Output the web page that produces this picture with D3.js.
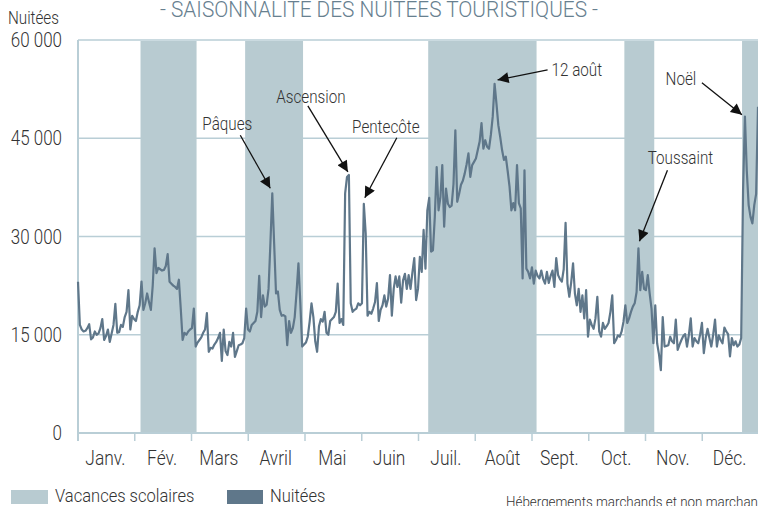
<!DOCTYPE html>
<html>
<head>
<meta charset="utf-8">
<script src="https://cdn.jsdelivr.net/npm/d3@7"></script>
<style>
  body { margin: 0; background: #fff; }
  svg { display: block; font-family: Roboto, "Noto Sans", sans-serif; font-weight: 300; }
</style>
</head>
<body>
<div id="chart"></div>
<script>
// ---- data (2017, one value per day) ----
const year = 2017;
const months = ['Janv.', 'Fév.', 'Mars', 'Avril', 'Mai', 'Juin', 'Juil.', 'Août', 'Sept.', 'Oct.', 'Nov.', 'Déc.'];
const yTicks = [0, 15000, 30000, 45000, 60000];

// school holidays (all zones), start / return day
const vacances = [
  ['2017-02-04', '2017-03-06'],
  ['2017-04-01', '2017-05-02'],
  ['2017-07-08', '2017-09-04'],
  ['2017-10-21', '2017-11-06'],
  ['2017-12-23', '2018-01-08']
];

const nuitees = [
  // janv.
  23100, 16500, 15800, 15500, 15600, 16000, 16600, 14300, 14600, 15500, 15000, 15200, 16000, 17400, 14200, 14800,
  15800, 13900, 15200, 16500, 19700, 15300, 15400, 16500, 16200, 17700, 18500, 21800, 15800, 17900, 17400,
  // fév.
  17100, 18500, 19500, 23100, 18800, 19800, 21300, 20000, 18800, 22500, 28200, 24400, 25200, 25000, 24800, 24900,
  25500, 27300, 23100, 22800, 22500, 22300, 22000, 23400, 19000, 14200, 15300, 15000,
  // mars
  15500, 15800, 16000, 19000, 13200, 13800, 14200, 14600, 15300, 15800, 18300, 12400, 13000, 12900, 13500, 13900,
  14500, 15300, 11000, 15800, 12500, 11900, 13900, 13200, 15300, 11600, 12500, 13400, 13500, 13700, 14500,
  // avril
  19000, 15800, 15500, 16500, 16800, 17100, 18500, 24000, 17700, 21000, 19300, 19600, 22000, 29000, 36600, 28900,
  21300, 21600, 18800, 17900, 18000, 17800, 13400, 17100, 15300, 16000, 17700, 21500, 25900, 19900,
  // mai
  13200, 13500, 13800, 14700, 17000, 19800, 17700, 14000, 12400, 16300, 17400, 17000, 18500, 15300, 15000, 17100,
  17400, 17700, 18500, 22800, 16800, 17400, 16500, 36600, 39100, 39400, 19800, 18500, 18800, 19000, 19800,
  // juin
  19500, 19800, 35000, 30500, 17900, 18500, 18200, 19000, 20000, 22900, 17100, 18800, 19500, 21000, 19300, 20500,
  24100, 17900, 22000, 23900, 22300, 23900, 19900, 23300, 24300, 22000, 24100, 22000, 24500, 26700,
  // juil.
  20300, 22000, 26900, 24600, 31000, 25100, 34000, 35900, 27700, 27900, 33000, 40600, 34000, 36000, 40900, 31500,
  37300, 35000, 34500, 34700, 38000, 46200, 35300, 36500, 37900, 38500, 39600, 41000, 42700, 39100, 40900,
  // août
  41400, 41900, 43200, 44500, 47300, 43400, 44700, 43700, 43400, 45500, 48300, 53300, 50300, 47000, 45200, 43200,
  41700, 42200, 40000, 37600, 34000, 35100, 34000, 40900, 35100, 34300, 23600, 40100, 25100, 24600, 23600,
  // sept.
  25300, 22800, 24800, 24000, 23600, 24800, 23500, 22800, 24600, 22900, 24000, 24800, 22300, 26700, 24100, 23500,
  23100, 25000, 32100, 22800, 20800, 23000, 25900, 21300, 19500, 22000, 18500, 21000, 17500, 21800,
  // oct.
  14700, 17300, 16500, 15900, 17500, 20800, 15500, 14700, 16800, 15900, 16300, 16800, 18500, 21000, 13700, 14200,
  14900, 14700, 15500, 17000, 19500, 16800, 17500, 18500, 19300, 19800, 21500, 28200, 21800, 24600, 22000,
  // nov.
  21800, 24100, 21300, 19000, 13700, 19500, 13700, 12000, 9600, 17700, 13200, 13300, 13400, 14700, 14000, 13700,
  17300, 12700, 13500, 14200, 14800, 15100, 13200, 15000, 17500, 13200, 14500, 14000, 13700, 15000,
  // déc.
  16800, 12200, 14500, 15900, 14500, 13200, 15000, 17300, 13200, 14900, 14200, 13700, 16100, 15500, 15100, 11700,
  14500, 13400, 14000, 13200, 13500, 14500, 37000, 48300, 40000, 34800, 33000, 32000, 34800, 36500, 49800
];

// callouts: day of year (0 = 1 Jan) + offsets from the data point
const annotations = [
  { label: 'Pâques',    day: 104, tip: [-2, -5],  from: [-32, -58], text: [-45, -69], anchor: 'middle' },
  { label: 'Ascension', day: 145, tip: [-1, -3],  from: [-41, -69], text: [-38, -78], anchor: 'middle' },
  { label: 'Pentecôte', day: 153, tip: [1, -6],   from: [33, -66],  text: [22, -77],  anchor: 'middle' },
  { label: '12 août',   day: 223, tip: [3, -4],   from: [53, -14],  text: [57, -14],  anchor: 'start' },
  { label: 'Toussaint', day: 300, tip: [1, -7],   from: [29, -78],  text: [42, -90],  anchor: 'middle' },
  { label: 'Noël',      day: 357, tip: [-3, -2],  from: [-43, -34], text: [-64, -38], anchor: 'middle' }
];

// ---- layout ----
const width = 758, height = 506;
const plot = { left: 78, right: 758, top: 40, bottom: 433 };
const bandColor = '#b8cbd1';
const lineColor = '#5f778a';
const gridColor = '#b9ced6';
const textColor = '#333';
const squeeze = 0.87; // fake condensed font

const parse = d3.timeParse('%Y-%m-%d');
const fmt = d3.formatLocale({ decimal: ',', thousands: '\u00a0', grouping: [3], currency: ['', ' €'] }).format(',d');

const series = nuitees.map((v, i) => ({ date: d3.timeDay.offset(new Date(year, 0, 1), i), value: v }));

const x = d3.scaleTime()
  .domain([new Date(year, 0, 1), new Date(year, 11, 31)])
  .range([plot.left, plot.right]);

const xm = d3.scaleBand()
  .domain(months)
  .range([plot.left, 759]);

const y = d3.scaleLinear()
  .domain([0, 60000])
  .range([plot.bottom, plot.top]);

const svg = d3.select('#chart')
  .append('svg')
  .attr('width', width)
  .attr('height', height);

svg.append('defs').append('marker')
  .attr('id', 'head')
  .attr('viewBox', '0 0 10 10')
  .attr('refX', 10)
  .attr('refY', 5)
  .attr('markerUnits', 'userSpaceOnUse')
  .attr('markerWidth', 14)
  .attr('markerHeight', 11)
  .attr('orient', 'auto')
  .append('path')
  .attr('d', 'M0,0 L10,5 L0,10 Z')
  .attr('fill', '#111');

// text helper with horizontal squeeze
function label(g, txt, tx, ty, size, anchor, color) {
  return g.append('text')
    .attr('transform', `translate(${tx},${ty}) scale(${squeeze},1)`)
    .attr('text-anchor', anchor || 'start')
    .attr('font-size', size)
    .attr('fill', color || textColor)
    .text(txt);
}

// gridlines
svg.append('g')
  .selectAll('line')
  .data(yTicks.filter(d => d > 0))
  .enter().append('line')
  .attr('x1', plot.left)
  .attr('x2', width)
  .attr('y1', d => y(d))
  .attr('y2', d => y(d))
  .attr('stroke', gridColor)
  .attr('stroke-width', 1.5);

// holiday bands
svg.append('g')
  .selectAll('rect')
  .data(vacances)
  .enter().append('rect')
  .attr('x', d => x(parse(d[0])) - 1)
  .attr('width', d => x(parse(d[1])) - x(parse(d[0])))
  .attr('y', plot.top + 1)
  .attr('height', plot.bottom - plot.top - 1)
  .attr('fill', bandColor);

// axes
svg.append('line')
  .attr('x1', plot.left).attr('x2', plot.left)
  .attr('y1', plot.top).attr('y2', plot.bottom + 8)
  .attr('stroke', gridColor).attr('stroke-width', 2);

svg.append('line')
  .attr('x1', plot.left).attr('x2', width)
  .attr('y1', plot.bottom).attr('y2', plot.bottom)
  .attr('stroke', gridColor).attr('stroke-width', 2);

svg.append('g')
  .selectAll('line')
  .data(months.slice(1))
  .enter().append('line')
  .attr('x1', d => xm(d)).attr('x2', d => xm(d))
  .attr('y1', plot.bottom).attr('y2', plot.bottom + 8)
  .attr('stroke', gridColor).attr('stroke-width', 1.5);

const xLabels = svg.append('g');
months.forEach(m => label(xLabels, m, xm(m) + xm.bandwidth() / 2 - 1, 465, 20, 'middle'));

const yLabels = svg.append('g');
yTicks.forEach(t => label(yLabels, fmt(t), 62, y(t) + 7, 19.5, 'end'));

label(svg, 'Nuitées', 8, 24, 17.5, 'start');

// title (top is cut off in the original)
svg.append('text')
  .attr('x', 160)
  .attr('y', 17)
  .attr('font-size', 22)
  .attr('fill', '#67808f')
  .attr('textLength', 438)
  .attr('lengthAdjust', 'spacingAndGlyphs')
  .text('- SAISONNALITE DES NUITEES TOURISTIQUES -');

// the series
const line = d3.line()
  .x(d => x(d.date))
  .y(d => y(d.value));

svg.append('path')
  .datum(series)
  .attr('fill', 'none')
  .attr('stroke', lineColor)
  .attr('stroke-width', 2.2)
  .attr('stroke-linejoin', 'round')
  .attr('d', line);

// callouts
const ann = svg.append('g');
annotations.forEach(a => {
  const px = x(series[a.day].date), py = y(series[a.day].value);
  ann.append('line')
    .attr('x1', px + a.from[0]).attr('y1', py + a.from[1])
    .attr('x2', px + a.tip[0]).attr('y2', py + a.tip[1])
    .attr('stroke', '#111')
    .attr('stroke-width', 1.3)
    .attr('marker-end', 'url(#head)');
  label(ann, a.label, px + a.text[0], py + a.text[1] + 6, 17.5, a.anchor);
});

// legend
const legend = svg.append('g');
legend.append('rect').attr('x', 11).attr('y', 490).attr('width', 37).attr('height', 14).attr('fill', bandColor);
label(legend, 'Vacances scolaires', 55, 502, 19, 'start');
legend.append('rect').attr('x', 227).attr('y', 490).attr('width', 36).attr('height', 14).attr('fill', lineColor);
label(legend, 'Nuitées', 270, 502, 19, 'start');

// source note, runs off the right edge as in the original
label(svg, 'Hébergements marchands et non marchands', 506, 507, 15.4, 'start');
</script>
</body>
</html>
